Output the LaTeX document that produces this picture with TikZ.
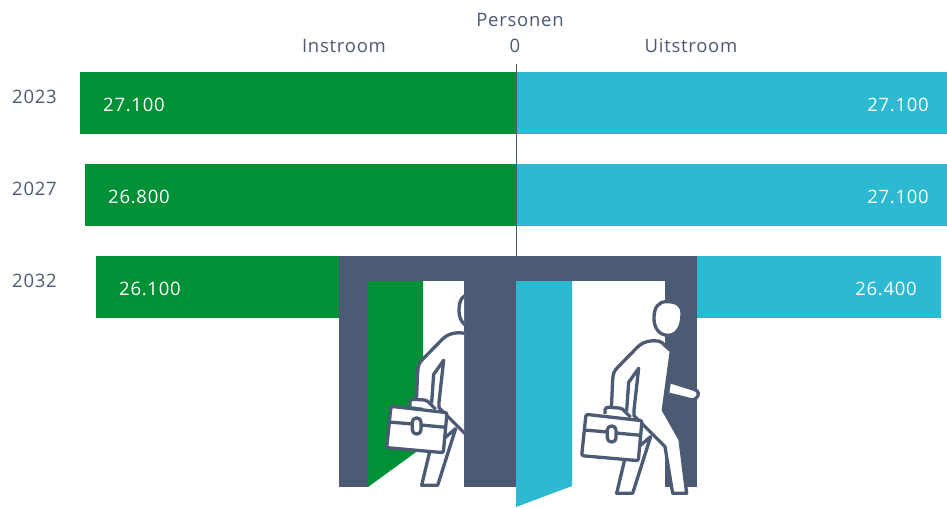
\documentclass[tikz,border=0pt]{standalone}
\usepackage{fontspec}
\setmainfont{Open Sans}
\definecolor{grn}{HTML}{009136}
\definecolor{blu}{HTML}{2CB9D1}
\definecolor{drk}{HTML}{4D5A74}
\newcommand{\personshape}{%
  % far arm
  \draw[pers] (483,396) -- (553,418) .. controls (568,423) and (568,436) .. (558,445) .. controls (553,450) and (548,450) .. (542,449) -- (478,433);
  % far leg
  \draw[pers] (422,560) -- (368,730) -- (320,730) -- (345,625) -- cycle;
  % body
  \draw[pers] (465,287) .. controls (455,272) and (440,270) .. (415,274) .. controls (395,278) and (385,288) .. (372,302) -- (325,350) .. controls (312,362) and (309,372) .. (308,390) -- (304,480) -- (350,482) -- (356,397) -- (386,355) -- (372,480) -- (372,497) -- (465,590) -- (488,730) -- (530,730) -- (510,568) -- (460,480) -- (484,303) -- cycle;
  % head
  \draw[pers] (470,155) .. controls (500,155) and (516,165) .. (516,190) .. controls (516,225) and (505,255) .. (475,256) .. controls (448,256) and (432,235) .. (432,205) .. controls (432,172) and (445,155) .. (470,155) -- cycle;
  % handle
  \draw[pers] (285,492) -- (285,480) .. controls (285,474) and (290,472) .. (295,472) -- (328,474) .. controls (336,475) and (340,479) .. (345,485) -- (362,502);
  % case
  \draw[pers,rounded corners=2pt] (228,493) -- (396,512) -- (385,632) -- (215,617) -- cycle;
  \draw[pers] (222,540) -- (292,546) (318,549) -- (392,556);
  \draw[pers,rounded corners=4pt] (292,528) rectangle (318,576);
}
\tikzset{
  x=1pt,y=-1pt,
  pers/.style={draw=drk,fill=white,line width=3.3pt,line join=round},
  lbl/.style={text=drk,font=\fontsize{18.5}{22}\selectfont\addfontfeature{LetterSpace=4},inner sep=0pt},
  val/.style={text=white,font=\fontsize{18.5}{22}\selectfont\addfontfeature{LetterSpace=4},inner sep=0pt},
}
\begin{document}
\begin{tikzpicture}
\useasboundingbox (0,0) rectangle (947,507);
\fill[white] (0,0) rectangle (947,507);
% bars
\fill[grn] (80,72) rectangle (516,134);
\fill[blu] (516,72) rectangle (947,134);
\fill[grn] (85,164) rectangle (516,226);
\fill[blu] (516,164) rectangle (947,226);
\fill[grn] (96,256) rectangle (516,318);
\fill[blu] (516,256) rectangle (941,318);
% axis
\coordinate (axtop) at (516,64);
\coordinate (axbot) at (516,256);
\draw[drk,line width=1pt] (axtop) -- (axbot);
% labels
\node[lbl,anchor=base] (pers) at (520,26) {Personen};
\node[lbl,anchor=base] (zero) at (515,52) {0};
\node[lbl,anchor=base] (in) at (344,52) {Instroom};
\node[lbl,anchor=base] (uit) at (691,52) {Uitstroom};
\node[lbl,anchor=base west] (y1) at (12,103) {2023};
\node[lbl,anchor=base west] (y2) at (12,195) {2027};
\node[lbl,anchor=base west] (y3) at (12,287) {2032};
\node[val,anchor=base west] (a1) at (103,111) {27.100};
\node[val,anchor=base east] (b1) at (929,111) {27.100};
\node[val,anchor=base west] (a2) at (108,203) {26.800};
\node[val,anchor=base east] (b2) at (929,203) {27.100};
\node[val,anchor=base west] (a3) at (119,295) {26.100};
\node[val,anchor=base east] (b3) at (917,295) {26.400};
% frame and openings
\fill[drk] (339,256) rectangle (697,487);
\fill[white] (368,281) rectangle (464,487);
\fill[white] (516,281) rectangle (665,487);
% doors
\fill[grn] (368,281) -- (423,281) -- (423,447) -- (368,487) -- cycle;
\fill[blu] (516,281) -- (572,281) -- (572,486) -- (516,507) -- cycle;
% left person
\begin{scope}
\clip (368,270) rectangle (464,500);
\begin{scope}[shift={(315,242)},x=0.3333pt,y=-0.3333pt]
\personshape
\end{scope}
\end{scope}
% right person
\begin{scope}[shift={(510,250)},x=0.3333pt,y=-0.3333pt]
\personshape
\end{scope}
\end{tikzpicture}
\end{document}
